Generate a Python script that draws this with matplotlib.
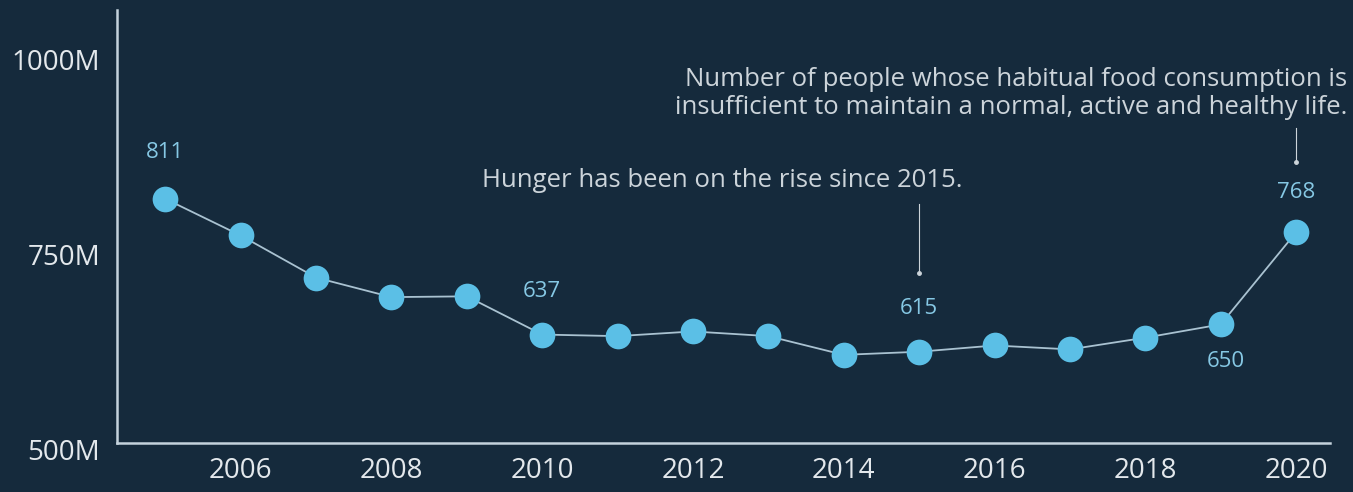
import matplotlib
matplotlib.use("Agg")
import matplotlib.pyplot as plt
from matplotlib.transforms import ScaledTranslation

# Undernourished people worldwide, millions
anos = [2005, 2006, 2007, 2008, 2009, 2010, 2011, 2012, 2013, 2014,
        2015, 2016, 2017, 2018, 2019, 2020]
pessoas = [811, 764, 710, 685, 686, 637, 635, 641, 635, 611,
           615, 623, 618, 633, 650, 768]

# value labels shown on the chart: (year, value, dx, dy) offsets in points
rotulos = [(2005, 811, 0, 33), (2010, 637, 0, 31), (2015, 615, 0, 31),
           (2019, 650, 4, -27), (2020, 768, 0, 29)]

yticks = [500, 750, 1000]
ytick_labels = ["500M", "750M", "1000M"]
xticks = [2006, 2008, 2010, 2012, 2014, 2016, 2018, 2020]

fundo = "#152a3c"
azul = "#5bbfe6"
azul_texto = "#86c8e4"
linha = "#a9c2d1"
cinza = "#ccd4da"

plt.rcParams["font.family"] = ["Open Sans", "DejaVu Sans"]

fig = plt.figure(figsize=(13.53, 4.92), dpi=100, facecolor=fundo)
ax = fig.add_axes([0.0865, 0.0996, 0.8965, 0.88])
ax.set_facecolor(fundo)

ax.plot(anos, pessoas, color=linha, lw=1.3, zorder=2)
ax.plot(anos, pessoas, "o", ms=18.5, color=azul, mec="none", zorder=3)

for ano, valor, dx, dy in rotulos:
    ax.annotate(str(valor), (ano, valor), xytext=(dx, dy),
                textcoords="offset points", ha="center", va="center",
                fontsize=16, color=azul_texto)

# callout lines with a small dot at the end
ax.plot([2015, 2015], [805, 716], color=cinza, lw=0.8, zorder=1)
ax.plot([2015], [716], "o", ms=2.5, color=cinza, zorder=1)
ax.plot([2020, 2020], [902, 858], color=cinza, lw=0.8, zorder=1)
ax.plot([2020], [858], "o", ms=2.5, color=cinza, zorder=1)

ax.text(2012.39, 834, "Hunger has been on the rise since 2015.",
        ha="center", va="center", fontsize=18.5, color=cinza)
ax.text(2020.68, 946,
        "Number of people whose habitual food consumption is\n"
        "insufficient to maintain a normal, active and healthy life.",
        ha="right", va="center", fontsize=18.5, color=cinza,
        linespacing=1.2, clip_on=False)

ax.set_xlim(2004.36, 2020.45)
ax.set_ylim(498, 1053)
ax.set_xticks(xticks)
ax.set_xticklabels([str(x) for x in xticks])
ax.set_yticks(yticks)
ax.set_yticklabels(ytick_labels)
ax.tick_params(length=0, labelsize=20, labelcolor="#e3e8ec")
ax.tick_params(axis="x", pad=10)
ax.tick_params(axis="y", pad=12)

# y labels sit a little lower than their gridline values
desloca = ScaledTranslation(0, -8 / 100, fig.dpi_scale_trans)
for lbl in ax.get_yticklabels():
    lbl.set_transform(lbl.get_transform() + desloca)

for lado in ["top", "right"]:
    ax.spines[lado].set_visible(False)
for lado in ["left", "bottom"]:
    ax.spines[lado].set_color("#c4d2dc")
    ax.spines[lado].set_linewidth(1.8)

fig.savefig("out.png", dpi=100, facecolor=fundo)
